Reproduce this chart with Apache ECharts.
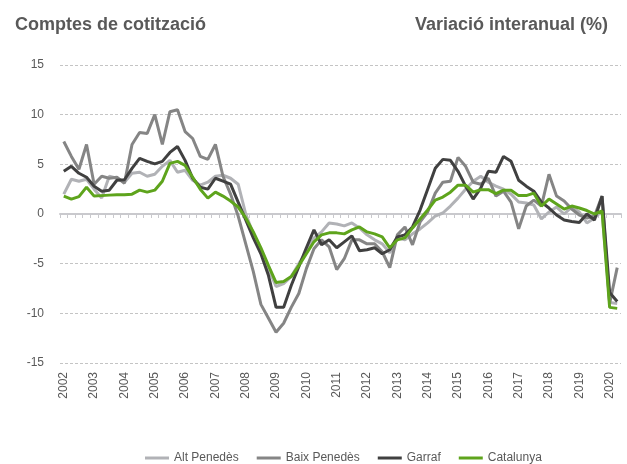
<!DOCTYPE html>
<html>
<head>
<meta charset="utf-8">
<script src="https://cdn.jsdelivr.net/npm/echarts@6/dist/echarts.min.js"></script>
<style>
  html, body { margin: 0; padding: 0; background: #fff; }
  #chart { width: 627px; height: 464px; }
</style>
</head>
<body>
<div id="chart"></div>
<script>
// anys de l'eix (una etiqueta per any, al primer trimestre)
const years = [2002, 2003, 2004, 2005, 2006, 2007, 2008, 2009, 2010, 2011,
  2012, 2013, 2014, 2015, 2016, 2017, 2018, 2019, 2020]
const quarters = ['T1', 'T2', 'T3', 'T4']
const nPoints = 74 // 2002 T1 - 2020 T2

// variació interanual (%) dels comptes de cotització
const altPenedes = [2.0, 3.5, 3.3, 3.5, 2.5, 1.6, 3.8, 3.6, 3.2, 4.1,
  4.2, 3.8, 4.0, 4.8, 5.4, 4.2, 4.4, 3.4, 2.9, 3.2,
  3.8, 3.9, 3.6, 3.0, 0.0, -2.0, -3.8, -5.5, -7.3, -7.0,
  -6.3, -5.0, -3.8, -2.4, -1.8, -0.9, -1.0, -1.2, -0.9, -1.4,
  -2.1, -2.6, -3.0, -3.9, -2.4, -2.6, -2.0, -1.5, -0.9, -0.2,
  0.1, 0.8, 1.6, 2.5, 3.3, 3.8, 3.2, 2.8, 2.5, 2.0,
  1.2, 1.1, 0.9, -0.5, 0.2, 0.7, 0.0, 0.7, 0.2, -0.9,
  -0.4, 0.3, -8.9, -9.0]
const baixPenedes = [7.3, 5.8, 4.5, 7.0, 3.0, 3.8, 3.6, 3.7, 3.1, 7.0,
  8.2, 8.1, 10.0, 7.0, 10.3, 10.5, 8.3, 7.6, 5.8, 5.5,
  7.0, 3.8, 2.0, -0.2, -3.0, -5.8, -9.1, -10.5, -11.9, -11.0,
  -9.4, -8.0, -5.5, -3.5, -2.6, -3.3, -5.6, -4.5, -2.6, -2.6,
  -3.0, -3.0, -3.8, -5.4, -2.1, -1.3, -3.1, -0.8, 0.2, 2.1,
  3.2, 3.3, 5.7, 4.8, 3.2, 3.0, 3.6, 1.8, 2.3, 1.2,
  -1.5, 0.8, 1.4, 0.8, 4.0, 1.8, 1.3, 0.5, -0.1, -0.4,
  -0.2, 1.8, -9.0, -5.4]
const garraf = [4.3, 4.8, 4.1, 3.7, 2.8, 2.3, 2.4, 3.4, 3.45, 4.6,
  5.6, 5.3, 5.05, 5.3, 6.2, 6.8, 5.4, 3.6, 2.7, 2.5,
  3.6, 3.3, 3.0, 1.2, -0.6, -2.4, -4.0, -6.2, -9.4, -9.4,
  -7.2, -5.3, -3.4, -1.6, -3.1, -2.6, -3.4, -2.8, -2.2, -3.7,
  -3.6, -3.4, -4.0, -3.6, -2.3, -2.1, -1.3, 0.4, 2.5, 4.6,
  5.5, 5.4, 4.3, 2.8, 1.5, 2.6, 4.3, 4.2, 5.8, 5.3,
  3.4, 2.8, 2.3, 1.2, 0.6, -0.1, -0.6, -0.75, -0.85, 0.0,
  -0.6, 1.8, -7.9, -8.8]
const catalunya = [1.8, 1.5, 1.75, 2.7, 1.8, 1.85, 1.9, 1.95, 1.95, 2.0,
  2.4, 2.2, 2.4, 3.3, 5.1, 5.3, 4.9, 3.7, 2.5, 1.6,
  2.2, 1.8, 1.3, 0.7, -0.4, -1.8, -3.4, -5.2, -6.9, -6.8,
  -6.3, -5.2, -4.0, -2.8, -2.1, -1.9, -1.9, -2.0, -1.6, -1.3,
  -1.8, -2.0, -2.3, -3.4, -2.6, -2.4, -1.4, -0.5, 0.4, 1.4,
  1.7, 2.2, 2.9, 2.9, 2.2, 2.45, 2.45, 2.05, 2.4, 2.4,
  1.85, 1.85, 2.1, 0.8, 1.5, 1.0, 0.5, 0.8, 0.6, 0.35,
  0.0, 0.3, -9.4, -9.5]

const categories = []
years.forEach(y => quarters.forEach(q => categories.push(y + ' ' + q)))
categories.length = nPoints

const textColor = '#595959'
const axisColor = '#c9c9cd'

let myChart = echarts.init(document.getElementById('chart'), null, { renderer: 'canvas' })
myChart.setOption({
  animation: false,
  textStyle: { fontFamily: 'Liberation Sans, Arial, sans-serif' },
  title: [
    {
      text: 'Comptes de cotització',
      left: 10,
      top: 11,
      textStyle: { fontSize: 18, fontWeight: 'bold', color: textColor }
    },
    {
      text: 'Variació interanual (%)',
      right: 14,
      top: 11,
      textStyle: { fontSize: 18, fontWeight: 'bold', color: textColor }
    }
  ],
  legend: {
    left: 140,
    top: 447,
    icon: 'rect',
    itemWidth: 24,
    itemHeight: 3,
    itemGap: 18,
    textStyle: { fontSize: 12, color: textColor }
  },
  grid: { left: 60, right: 6, top: 65, bottom: 101, containLabel: false },
  xAxis: [
    {
      type: 'category',
      data: categories,
      boundaryGap: true,
      axisLine: { onZero: true, lineStyle: { color: axisColor, width: 2 } },
      axisTick: { show: true, interval: 0, length: 4, lineStyle: { color: axisColor } },
      axisLabel: { show: false },
      splitLine: { show: false }
    },
    {
      type: 'category',
      data: categories,
      position: 'bottom',
      boundaryGap: true,
      axisLine: { show: false, onZero: false },
      axisTick: { show: false },
      axisLabel: {
        interval: 3,
        rotate: 90,
        margin: 9,
        fontSize: 12,
        color: textColor,
        formatter: v => v.slice(0, 4)
      },
      splitLine: { show: false }
    }
  ],
  yAxis: {
    type: 'value',
    min: -15,
    max: 15,
    interval: 5,
    axisLine: { show: false },
    axisTick: { show: false },
    axisLabel: { fontSize: 12, color: textColor, margin: 16 },
    splitLine: {
      lineStyle: { color: '#c4c4c4', type: [3, 2] },
      // la línia de -15 gairebé no es veu a l'original
      interval: (i, v) => v !== -15
    }
  },
  series: [
    {
      name: 'Alt Penedès', type: 'line', data: altPenedes, symbol: 'none',
      lineStyle: { width: 3, color: '#b1b2b6' }, itemStyle: { color: '#b1b2b6' }
    },
    {
      name: 'Baix Penedès', type: 'line', data: baixPenedes, symbol: 'none',
      lineStyle: { width: 3, color: '#858585' }, itemStyle: { color: '#858585' }
    },
    {
      name: 'Garraf', type: 'line', data: garraf, symbol: 'none',
      lineStyle: { width: 3, color: '#404040' }, itemStyle: { color: '#404040' }
    },
    {
      name: 'Catalunya', type: 'line', data: catalunya, symbol: 'none',
      lineStyle: { width: 3, color: '#5ea41c' }, itemStyle: { color: '#5ea41c' }
    }
  ]
})
</script>
</body>
</html>
